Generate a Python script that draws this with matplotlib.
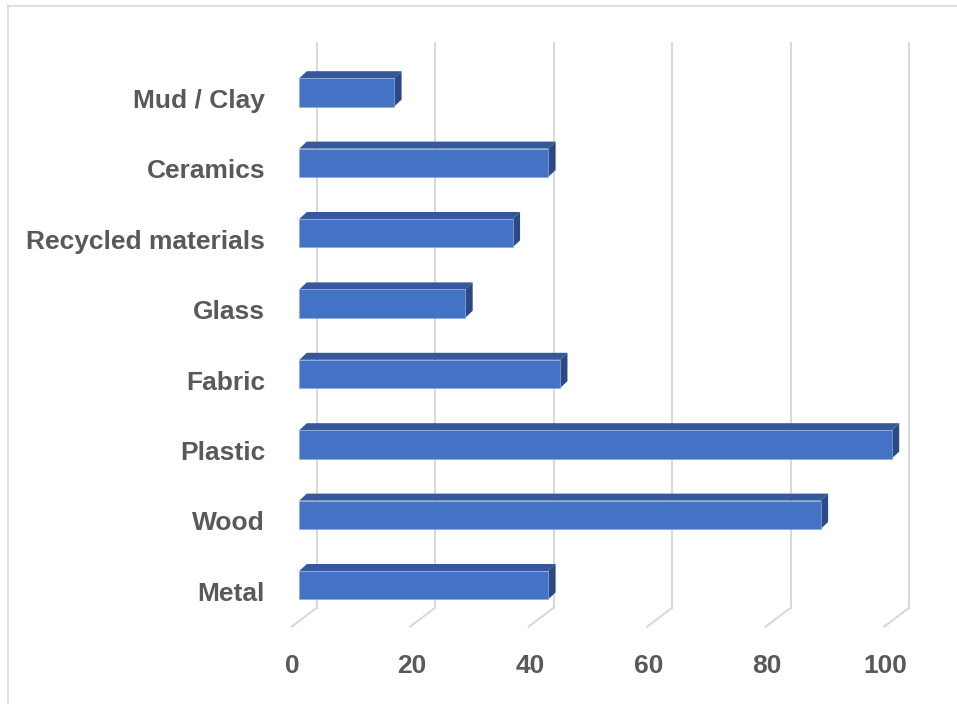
import numpy as np
import matplotlib
matplotlib.use("Agg")
import matplotlib.pyplot as plt
from matplotlib.patches import Polygon
from matplotlib.lines import Line2D

plt.rcParams['font.family'] = ['Liberation Sans', 'DejaVu Sans']

# Materials (bottom to top) and their counts
materials = ["Metal", "Wood", "Plastic", "Fabric", "Glass",
             "Recycled materials", "Ceramics", "Mud / Clay"]
counts = [42, 88, 100, 44, 28, 36, 42, 16]
x_ticks = [0, 20, 40, 60, 80, 100]

FACE = "#4472C4"
TOP = "#34589A"
SIDE = "#2B4A85"
GRID = "#D9D9D9"
TEXT = "#595959"

W, H = 957, 704
fig = plt.figure(figsize=(W / 100, H / 100), dpi=100)
ax = fig.add_axes([0, 0, 1, 1])

# pixel scale of the plot: value units and category units
px_x = 5.924
px_y = 70.4
x0_px, y0_px = 299.3, 585.2
ax.set_xlim(-x0_px / px_x, (W - x0_px) / px_x)
ax.set_ylim((y0_px - H) / px_y, y0_px / px_y)
ax.axis("off")

# depth of the 3-D look, in data units
bar_dx, bar_dy = 7.5 / px_x, 7.0 / px_y
wall_dx = 17.4 / px_x
front_dx = -7.6 / px_x
wall_top = (y0_px - 43) / px_y
wall_bot = (y0_px - 607.7) / px_y
floor_front = (y0_px - 626.7) / px_y

# back wall gridlines and floor lines
for v in x_ticks:
    ax.plot([v + wall_dx, v + wall_dx], [wall_bot, wall_top], color=GRID, lw=1.5, zorder=1)
    ax.plot([v + wall_dx, v + front_dx], [wall_bot, floor_front], color=GRID, lw=1.5, zorder=1)

ypos = np.arange(len(materials))
bar_h = 28.4 / px_y

for y, val in zip(ypos, counts):
    top = y + bar_h / 2
    bot = y - bar_h / 2
    ax.add_patch(Polygon([(0, top), (val, top), (val + bar_dx, top + bar_dy), (bar_dx, top + bar_dy)],
                         closed=True, facecolor=TOP, edgecolor="none", zorder=3))
    ax.add_patch(Polygon([(val, bot), (val + bar_dx, bot + bar_dy), (val + bar_dx, top + bar_dy), (val, top)],
                         closed=True, facecolor=SIDE, edgecolor="none", zorder=3))

ax.barh(ypos, counts, height=bar_h, left=0, color=FACE, edgecolor="#8EA9DB", linewidth=0.5, zorder=4)

# category labels
lab_x = (265 - x0_px) / px_x
for y, name in zip(ypos, materials):
    ax.text(lab_x, y - 15.5 / px_y, name, ha="right", va="baseline",
            fontsize=19, fontweight="bold", color=TEXT)

# value axis labels on the floor front edge
tick_y = (y0_px - 673) / px_y
for v in x_ticks:
    ax.text(v - 6.5 / px_x, tick_y, str(v), ha="center", va="baseline",
            fontsize=19, fontweight="bold", color=TEXT)

# chart area border
fig.add_artist(Line2D([8 / W, 8 / W], [0, 1 - 6 / H], color=GRID, lw=1.2))
fig.add_artist(Line2D([8 / W, 1], [1 - 6 / H, 1 - 6 / H], color=GRID, lw=1.2))

fig.savefig("out.png", dpi=100)
